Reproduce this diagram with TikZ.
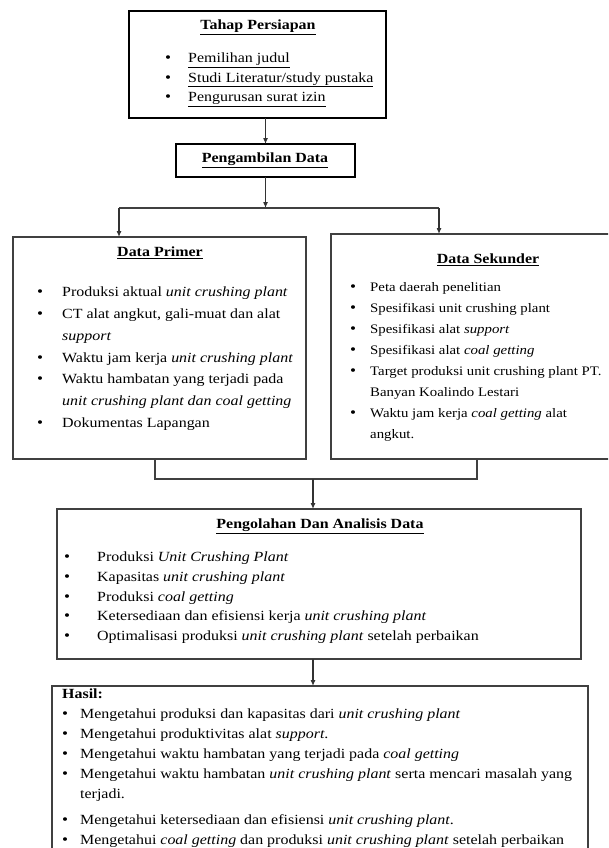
\documentclass[tikz,border=0pt]{standalone}
\usepackage{fontspec}
\setmainfont[FakeStretch=1.14]{Liberation Serif}
\usetikzlibrary{arrows.meta}

\begin{document}
\begin{tikzpicture}[x=1pt,y=-1pt]
\tikzset{ >={Latex[length=6pt,width=5pt]},
  box/.style={draw=black!75, line width=1.4pt, inner sep=0pt, outer sep=0pt},
  headbox/.style={draw=black, line width=2.2pt, inner sep=0pt, outer sep=0pt},
  title/.style={inner sep=0pt, font=\fontsize{14}{16}\selectfont\bfseries},
  list/.style={inner sep=0pt, anchor=north west, align=left},
  line/.style={draw=black!75, line width=1.1pt},
  arr/.style={->, draw=black!80, line width=1.1pt},
}
\newcommand{\bul}{{\fontsize{15}{0}\selectfont\textbullet}}
\path[use as bounding box, clip] (0,0) rectangle (608,848);

%\draw [lightgray, dashed](0,0) grid (608,848);

% boxes
\node [headbox, minimum width=257, minimum height=107] (tahap) at (257.5,64.5) {};
\node [headbox, minimum width=179, minimum height=33]  (ambil) at (265.5,160.5) {};
\node [box, minimum width=293, minimum height=222] (prim)  at (159.5,348) {};
\node [box, minimum width=279, minimum height=225] (sek)   at (470.5,346.5) {};
\node [box, minimum width=524, minimum height=150] (olah)  at (319,584) {};
\node [box, minimum width=536, minimum height=200] (hasil) at (320,786) {};

% titles
\node [title] (tahapT) at (258,27)  {\underline{Tahap Persiapan}};
\node [title] (ambilT) at (265,160) {\underline{Pengambilan Data}};
\node [title] (primT)  at (160,253) {\underline{Data Primer}};
\node [title] (sekT)   at (488,260) {\underline{Data Sekunder}};
\node [title] (olahT)  at (320,526) {\underline{Pengolahan Dan Analisis Data}};

% lists
\node [list] (tahapL) at (165,48.9) {\fontsize{14}{19.5}\selectfont
  \begin{tabular}{@{}p{23pt}@{}l@{}}
  \bul & \underline{Pemilihan judul}\\
  \bul & \underline{Studi Literatur/study pustaka}\\
  \bul & \underline{Pengurusan surat izin}
  \end{tabular}};

\node [list] (primL) at (37,281.2) {\fontsize{14}{21.8}\selectfont
  \begin{tabular}{@{}p{25pt}@{}l@{}}
  \bul & Produksi aktual \textit{unit crushing plant}\\
  \bul & CT alat angkut, gali-muat dan alat\\
       & \textit{support}\\
  \bul & Waktu jam kerja \textit{unit crushing plant}\\
  \bul & Waktu hambatan yang terjadi pada\\
       & \textit{unit crushing plant dan coal getting}\\
  \bul & Dokumentas Lapangan
  \end{tabular}};

\node [list] (sekL) at (350,276.3) {\fontsize{13}{21}\selectfont
  \begin{tabular}{@{}p{20pt}@{}l@{}}
  \bul & Peta daerah penelitian\\
  \bul & Spesifikasi unit crushing plant\\
  \bul & Spesifikasi alat \textit{support}\\
  \bul & Spesifikasi alat \textit{coal getting}\\
  \bul & Target produksi unit crushing plant PT.\\
       & Banyan Koalindo Lestari\\
  \bul & Waktu jam kerja \textit{coal getting} alat\\
       & angkut.
  \end{tabular}};

\node [list] (olahL) at (64,547.7) {\fontsize{14}{19.75}\selectfont
  \begin{tabular}{@{}p{33pt}@{}l@{}}
  \bul & Produksi \textit{Unit Crushing Plant}\\
  \bul & Kapasitas \textit{unit crushing plant}\\
  \bul & Produksi \textit{coal getting}\\
  \bul & Ketersediaan dan efisiensi kerja \textit{unit crushing plant}\\
  \bul & Optimalisasi produksi \textit{unit crushing plant} setelah perbaikan
  \end{tabular}};

\node [list] (hasilL) at (62,684.5) {\fontsize{14}{20}\selectfont
  \begin{tabular}{@{}p{18pt}@{}l@{}}
  \multicolumn{2}{@{}l@{}}{\textbf{Hasil:}}\\
  \bul & Mengetahui produksi dan kapasitas dari \textit{unit crushing plant}\\
  \bul & Mengetahui produktivitas alat \textit{support}.\\
  \bul & Mengetahui waktu hambatan yang terjadi pada \textit{coal getting}\\
  \bul & Mengetahui waktu hambatan \textit{unit crushing plant} serta mencari masalah yang\\
       & terjadi.\\[6pt]
  \bul & Mengetahui ketersediaan dan efisiensi \textit{unit crushing plant}.\\
  \bul & Mengetahui \textit{coal getting} dan produksi \textit{unit crushing plant} setelah perbaikan
  \end{tabular}};

% connectors
\coordinate (split) at (263,208);
\coordinate (spL) at (119,208);
\coordinate (spR) at (439,208);
\coordinate (jL) at (155,479);
\coordinate (jR) at (477,479);
\coordinate (join) at (313,479);

\draw [arr] (ambil.north |- tahap.south) -- (ambil.north);
\draw [arr] (ambil.south) -- (ambil.south |- split);
\draw [line] (spL) -- (spR);
\draw [arr] (spL) -- (spL |- prim.north);
\draw [arr] (spR) -- (spR |- sek.north);

\draw [line] (jL |- prim.south) -- (jL) -- (jR) -- (jR |- sek.south);
\draw [arr] (join) -- (join |- olah.north);
\draw [arr] (join |- olah.south) -- (join |- hasil.north);

\end{tikzpicture}
\end{document}
